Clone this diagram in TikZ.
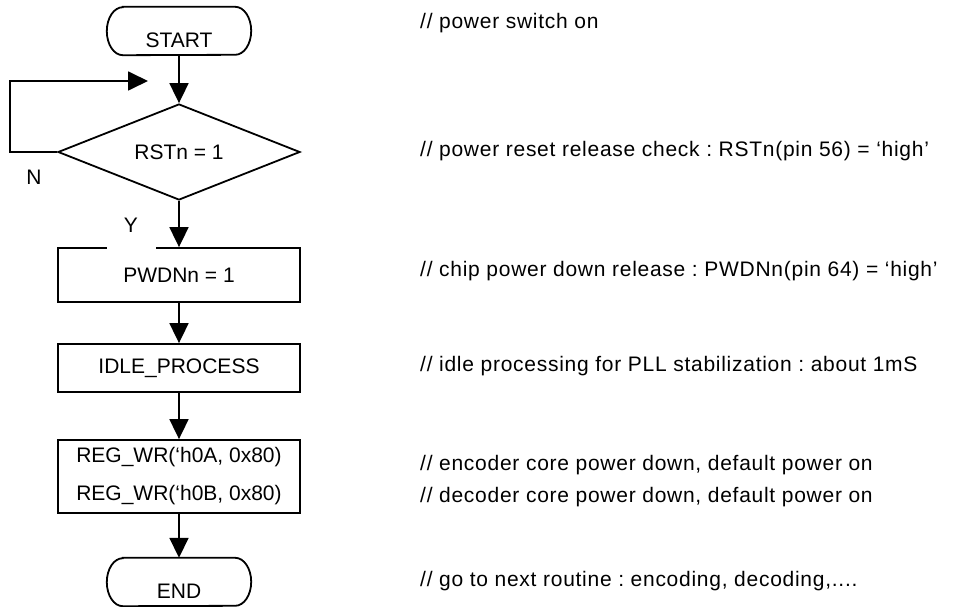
\documentclass[tikz,border=0pt]{standalone}
\usepackage{fontspec}
\setmainfont{Liberation Sans}
\newfontfamily\cmtfont[LetterSpace=3.5]{Liberation Sans}
\usetikzlibrary{arrows.meta,shapes.geometric}
\frenchspacing
\begin{document}
\begin{tikzpicture}[x=1pt,y=-1pt,
  every node/.style={font=\fontsize{21pt}{24pt}\selectfont, inner sep=0pt},
  proc/.style={draw, line width=1.8pt, minimum width=242pt, rectangle},
  term/.style={minimum width=144pt, minimum height=48pt, text height=33pt, text depth=0pt},
  dec/.style={draw, diamond, line width=1.8pt, aspect=2.52, minimum width=242pt, minimum height=96pt},
  arr/.style={line width=1.8pt, -{Triangle[length=20pt,width=19pt]}},
  outline/.style={line width=1.8pt},
  cmt/.style={anchor=west, text height=15pt, text depth=0pt, font=\cmtfont\fontsize{21pt}{24pt}\selectfont},
  ylab/.style={fill=white, minimum width=49pt, minimum height=50pt}
]
\useasboundingbox (0,0) rectangle (953,607);

\node[term] (start) at (179,31) {START};
\node[dec] (rst) at (179,152) {RSTn = 1};
\node[proc, minimum height=54pt] (pwdn) at (179,275) {PWDNn = 1};
\node[proc, minimum height=48pt] (idle) at (179,368) {IDLE\_PROCESS};
\node[proc, minimum height=73pt, align=center, font=\fontsize{21pt}{38pt}\selectfont] (reg) at (179,476.5) {REG\_WR(‘h0A, 0x80)\\REG\_WR(‘h0B, 0x80)};
\node[term] (end) at (179,582) {END};

\foreach \n in {start,end}
  \draw[outline] ([xshift=16pt]\n.north west) -- ([xshift=-16pt]\n.north east)
    arc[start angle=90,end angle=-90,x radius=16pt,y radius=24pt]
    -- ([xshift=16pt]\n.south west)
    arc[start angle=270,end angle=90,x radius=16pt,y radius=24pt] -- cycle;

\draw[arr] (start) -- (rst);
\draw[arr] (rst) -- (pwdn);
\draw[arr] (pwdn) -- (idle);
\draw[arr] (idle) -- (reg);
\draw[arr] (reg) -- (end);

\coordinate (loopend) at (148,81);
\draw[arr] (rst.west) -- ++(-47,0) |- (loopend);

\node (nlab) at (34,177) {N};
\node[ylab] (ylabel) at (131,225) {Y};

\node[cmt] (c1) at (420,21) {// power switch on};
\node[cmt] (c2) at (420,149) {// power reset release check : RSTn(pin 56) = ‘high’};
\node[cmt] (c3) at (420,269) {// chip power down release : PWDNn(pin 64) = ‘high’};
\node[cmt] (c4) at (420,364) {// idle processing for PLL stabilization : about 1mS};
\node[cmt] (c5) at (420,463) {// encoder core power down, default power on};
\node[cmt] (c6) at (420,495) {// decoder core power down, default power on};
\node[cmt] (c7) at (420,579) {// go to next routine : encoding, decoding,....};
\end{tikzpicture}
\end{document}
